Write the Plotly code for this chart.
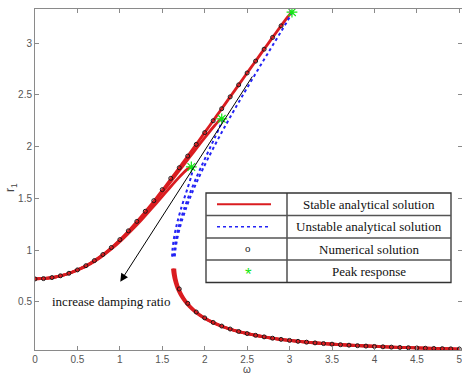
import plotly.graph_objects as go

# ---- frequency-response branches (omega, r1) for three damping ratios ----
# zeta = 0.05
up05_w = [0, 0.1730, 0.2981, 0.4182, 0.5348, 0.6481, 0.7590, 0.8682, 1.0020, 1.1199, 1.2281,
          1.3297, 1.4270, 1.5211, 1.6130, 1.7033, 1.7924, 1.8806, 1.9682, 2.0554, 2.1422,
          2.2289, 2.3155, 2.4020, 2.4886, 2.5754, 2.6624, 2.7498, 2.8380, 2.9276, 2.9737,
          3.0027, 3.0282]
up05_r = [0.72, 0.73, 0.75, 0.78, 0.82, 0.87, 0.93, 1.0, 1.1, 1.2, 1.3, 1.4, 1.5, 1.6, 1.7,
          1.8, 1.9, 2.0, 2.1, 2.2, 2.3, 2.4, 2.5, 2.6, 2.7, 2.8, 2.9, 3.0, 3.1, 3.2, 3.25,
          3.28, 3.3015]
un05_w = [3.0282, 3.0185, 2.9985, 2.9630, 2.8898, 2.8157, 2.7417, 2.6679, 2.5946, 2.5220,
          2.4502, 2.3795, 2.3099, 2.2417, 2.1751, 2.1103, 2.0475, 1.9872, 1.9296, 1.8752,
          1.8245, 1.7782, 1.7369, 1.7017, 1.6736, 1.6542, 1.6466]
un05_r = [3.3015, 3.28, 3.25, 3.2, 3.1, 3.0, 2.9, 2.8, 2.7, 2.6, 2.5, 2.4, 2.3, 2.2, 2.1,
          2.0, 1.9, 1.8, 1.7, 1.6, 1.5, 1.4, 1.3, 1.2, 1.1, 1.0, 0.93]
lo05_w = [1.6470, 1.6516, 1.6568, 1.6636, 1.6870, 1.7111, 1.7426, 1.7831, 1.8348, 1.9007,
          1.9855, 2.0962, 2.2451, 2.4544, 2.7709, 3.0559, 3.3169, 3.6742, 4.2029, 4.5822,
          4.8186, 5.0]
lo05_r = [0.82, 0.78, 0.75, 0.72, 0.65, 0.6, 0.55, 0.5, 0.45, 0.4, 0.35, 0.3, 0.25, 0.2,
          0.15, 0.12, 0.1, 0.08, 0.06, 0.05, 0.045, 0.0417]

# zeta = 0.10
up10_w = [0, 0.1740, 0.2998, 0.4207, 0.5381, 0.6524, 0.7644, 0.8749, 1.0105, 1.1305, 1.2407,
          1.3447, 1.4445, 1.5415, 1.6367, 1.7307, 1.8243, 1.9182, 2.0133, 2.1124, 2.1558,
          2.1809, 2.2008]
up10_r = [0.72, 0.73, 0.75, 0.78, 0.82, 0.87, 0.93, 1.0, 1.1, 1.2, 1.3, 1.4, 1.5, 1.6, 1.7,
          1.8, 1.9, 2.0, 2.1, 2.2, 2.24, 2.26, 2.2696]
un10_w = [2.2008, 2.2057, 2.1998, 2.1812, 2.1264, 2.0690, 2.0117, 1.9556, 1.9016, 1.8503,
          1.8023, 1.7583, 1.7192, 1.6858, 1.6595, 1.6415, 1.6288]
un10_r = [2.2696, 2.26, 2.24, 2.2, 2.1, 2.0, 1.9, 1.8, 1.7, 1.6, 1.5, 1.4, 1.3, 1.2, 1.1,
          1.0, 0.93]
lo10_w = [1.6307, 1.6357, 1.6413, 1.6546, 1.6788, 1.7034, 1.7354, 1.7764, 1.8286, 1.8950,
          1.9803, 2.0915, 2.2409, 2.4507, 2.7678, 3.3144, 4.2010, 4.8169, 5.0]
lo10_r = [0.82, 0.78, 0.75, 0.72, 0.65, 0.6, 0.55, 0.5, 0.45, 0.4, 0.35, 0.3, 0.25, 0.2,
          0.15, 0.1, 0.06, 0.045, 0.0417]

# zeta = 0.15
up15_w = [0, 0.1756, 0.3027, 0.4250, 0.5438, 0.6599, 0.7738, 0.8866, 1.0257, 1.1495, 1.2642,
          1.3735, 1.4799, 1.5858, 1.6946, 1.7531, 1.7927, 1.8170, 1.8423]
up15_r = [0.72, 0.73, 0.75, 0.78, 0.82, 0.87, 0.93, 1.0, 1.1, 1.2, 1.3, 1.4, 1.5, 1.6, 1.7,
          1.75, 1.78, 1.795, 1.8034]
un15_w = [1.8423, 1.8551, 1.8571, 1.8521, 1.8367, 1.7987, 1.7592, 1.7215, 1.6872, 1.6579,
          1.6349, 1.6199, 1.6151]
un15_r = [1.8034, 1.795, 1.78, 1.75, 1.7, 1.6, 1.5, 1.4, 1.3, 1.2, 1.1, 1.0, 0.93]
lo15_w = [1.6195, 1.6254, 1.6316, 1.6394, 1.6649, 1.6905, 1.7234, 1.7653, 1.8183, 1.8855,
          1.9716, 2.0837, 2.2339, 2.4446, 2.7626, 3.3103, 4.1978, 4.8142, 5.0]
lo15_r = [0.82, 0.78, 0.75, 0.72, 0.65, 0.6, 0.55, 0.5, 0.45, 0.4, 0.35, 0.3, 0.25, 0.2,
          0.15, 0.1, 0.06, 0.045, 0.0417]

# numerical (time-integration) solution
num_up_w = [0, 0.1, 0.2, 0.3, 0.4, 0.5, 0.6, 0.7, 0.8, 0.9, 1.0, 1.1, 1.2, 1.3, 1.4, 1.5,
            1.6, 1.7, 1.8, 1.9, 2.0, 2.1, 2.2, 2.3, 2.4, 2.5, 2.6, 2.7, 2.8, 2.9]
num_up_r = [0.72, 0.7233, 0.7334, 0.7505, 0.7749, 0.8073, 0.848, 0.8975, 0.9562, 1.024,
            1.1006, 1.1853, 1.277, 1.3748, 1.4773, 1.5838, 1.6934, 1.796, 1.909, 2.022,
            2.136, 2.251, 2.367, 2.482, 2.598, 2.713, 2.828, 2.943, 3.057, 3.169]
num_lo_w = [1.7, 1.8, 1.9, 2.0, 2.1, 2.2, 2.3, 2.4, 2.5, 2.6, 2.7, 2.8, 2.9, 3.0, 3.1, 3.2,
            3.3, 3.4, 3.5, 3.6, 3.7, 3.8, 3.9, 4.0, 4.1, 4.2, 4.3, 4.4, 4.5, 4.6, 4.7, 4.8,
            4.9, 5.0]
num_lo_r = [0.623, 0.4836, 0.40, 0.343, 0.2991, 0.264, 0.2354, 0.2116, 0.1915, 0.1743,
            0.1595, 0.1465, 0.1352, 0.1252, 0.1163, 0.1083, 0.1012, 0.0948, 0.0889, 0.0836,
            0.0788, 0.0744, 0.0704, 0.0667, 0.0633, 0.0601, 0.0572, 0.0545, 0.052, 0.0496,
            0.0474, 0.0454, 0.0435, 0.0417]

# peak responses
peak_w = [1.8423, 2.2008, 3.0282]
peak_r = [1.8034, 2.2696, 3.3015]

# legend table entries
legend_labels = ["Stable analytical solution", "Unstable analytical solution",
                 "Numerical solution", "Peak response"]

RED = "rgb(218,28,32)"
BLUE = "rgb(35,35,245)"
GREEN = "rgb(20,230,20)"

# plot area in pixels
FIG_W, FIG_H = 462, 376
L, R, T, B = 35, 0, 9, 26
PW, PH = FIG_W - L - R, FIG_H - T - B


def px(xp):
    return (xp - L) / PW


def py(yp):
    return (FIG_H - B - yp) / PH


fig = go.Figure()

stable = [(up05_w, up05_r), (up10_w, up10_r), (up15_w, up15_r),
          (lo05_w, lo05_r), (lo10_w, lo10_r), (lo15_w, lo15_r)]
for w, r in stable:
    fig.add_trace(go.Scatter(x=w, y=r, mode="lines", showlegend=False,
                             line=dict(color=RED, width=2.8, shape="spline", smoothing=0.6)))

unstable = [(un05_w, un05_r), (un10_w, un10_r), (un15_w, un15_r)]
for w, r in unstable:
    fig.add_trace(go.Scatter(x=w, y=r, mode="lines", showlegend=False,
                             line=dict(color=BLUE, width=2, dash="dot", shape="spline",
                                       smoothing=0.6)))

fig.add_trace(go.Scatter(x=num_up_w + num_lo_w, y=num_up_r + num_lo_r, mode="markers",
                         showlegend=False,
                         marker=dict(symbol="circle-open", size=4, color="rgb(30,20,20)",
                                     line=dict(width=1, color="rgb(30,20,20)"))))

fig.add_trace(go.Scatter(x=peak_w, y=peak_r, mode="markers", showlegend=False,
                         marker=dict(symbol="asterisk-open", size=9, color=GREEN,
                                     line=dict(color=GREEN, width=1.2))))

# legend table drawn as a bordered grid
tx0, tx1, tdiv = 206, 451, 287
rows = [193, 215.5, 238, 260, 282.5]
shapes = [dict(type="rect", xref="paper", yref="paper", x0=px(tx0), x1=px(tx1),
               y0=py(rows[-1]), y1=py(rows[0]), fillcolor="white",
               line=dict(color="#333", width=1.3), layer="above")]
shapes.append(dict(type="line", xref="paper", yref="paper", x0=px(tdiv), x1=px(tdiv),
                   y0=py(rows[-1]), y1=py(rows[0]), line=dict(color="#333", width=1.3),
                   layer="above"))
for yr in rows[1:-1]:
    shapes.append(dict(type="line", xref="paper", yref="paper", x0=px(tx0), x1=px(tx1),
                       y0=py(yr), y1=py(yr), line=dict(color="#555", width=1.3),
                       layer="above"))
centers = [(rows[i] + rows[i + 1]) / 2 for i in range(4)]
shapes.append(dict(type="line", xref="paper", yref="paper", x0=px(217), x1=px(271),
                   y0=py(centers[0]), y1=py(centers[0]), line=dict(color=RED, width=2),
                   layer="above"))
shapes.append(dict(type="line", xref="paper", yref="paper", x0=px(217), x1=px(271),
                   y0=py(centers[1]), y1=py(centers[1]),
                   line=dict(color=BLUE, width=1.5, dash="dot"), layer="above"))

annotations = []
for lbl, cy in zip(legend_labels, centers):
    annotations.append(dict(xref="paper", yref="paper", x=px((tdiv + tx1) / 2), y=py(cy),
                            text=lbl, showarrow=False, xanchor="center", yanchor="middle",
                            font=dict(family="Liberation Serif", size=13, color="#111")))
annotations.append(dict(xref="paper", yref="paper", x=px(248), y=py(centers[2] - 1),
                        text="o", showarrow=False, xanchor="center", yanchor="middle",
                        font=dict(family="Liberation Serif", size=11, color="#222")))
annotations.append(dict(xref="paper", yref="paper", x=px(248), y=py(centers[3] + 3),
                        text="*", showarrow=False, xanchor="center", yanchor="middle",
                        font=dict(family="Liberation Sans", size=17, color=GREEN)))

# damping-ratio arrow and caption
annotations.append(dict(x=1.005, y=0.693, ax=2.573, ay=2.694, xref="x", yref="y",
                        axref="x", ayref="y", text="", showarrow=True, arrowhead=2,
                        arrowsize=1.6, arrowwidth=1, arrowcolor="black"))
annotations.append(dict(x=0.9, y=0.506, xref="x", yref="y", text="increase damping ratio",
                        showarrow=False, xanchor="center", yanchor="middle",
                        font=dict(family="Liberation Serif", size=13, color="#111")))

# axis titles
annotations.append(dict(xref="paper", yref="paper", x=px(11), y=py(188), text="r<sub>1</sub>",
                        showarrow=False, textangle=-90, xanchor="center", yanchor="middle",
                        font=dict(family="Liberation Sans", size=12, color="#444")))
annotations.append(dict(xref="paper", yref="paper", x=px(247), y=py(376), text="ω",
                        showarrow=False, xanchor="center", yanchor="bottom", borderpad=0,
                        font=dict(family="Liberation Sans", size=10, color="#444")))

axis_style = dict(showgrid=False, zeroline=False, showline=True, linecolor="#8a8a8a",
                  linewidth=1, mirror="ticks", ticks="inside", ticklen=4, tickcolor="#8a8a8a",
                  ticklabeloverflow="allow",
                  tickfont=dict(family="Liberation Sans", size=10, color="#555"))

x_min, x_max = 0, 5.032
y_min, y_max = 0.0324, 3.332

fig.update_layout(
    width=FIG_W, height=FIG_H,
    margin=dict(l=L, r=R, t=T, b=B),
    paper_bgcolor="white", plot_bgcolor="white",
    xaxis=dict(range=[x_min, x_max], tickvals=[0, 0.5, 1, 1.5, 2, 2.5, 3, 3.5, 4, 4.5, 5],
               ticktext=["0", "0.5", "1", "1.5", "2", "2.5", "3", "3.5", "4", "4.5", "5"],
               **axis_style),
    yaxis=dict(range=[y_min, y_max], tickvals=[0.5, 1, 1.5, 2, 2.5, 3],
               ticktext=["0.5", "1", "1.5", "2", "2.5", "3"], **axis_style),
    shapes=shapes,
    annotations=annotations,
    showlegend=False,
)

fig.write_html("out.html")
